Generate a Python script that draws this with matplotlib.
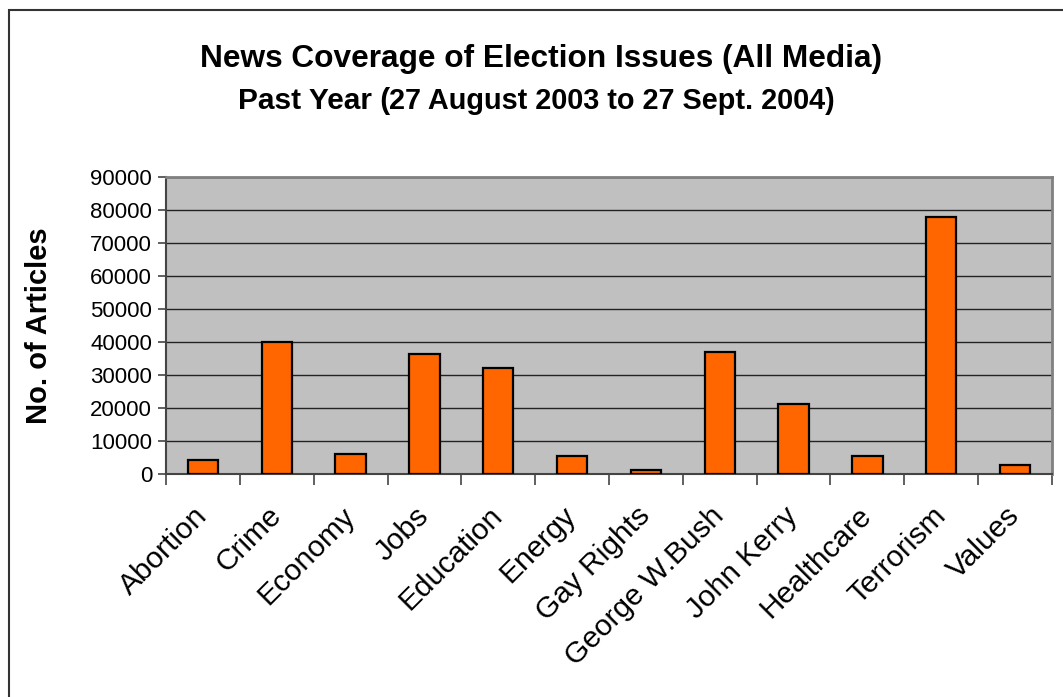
import matplotlib
matplotlib.use("Agg")
import matplotlib.pyplot as plt
import numpy as np
from matplotlib.patches import Rectangle

plt.rcParams["font.family"] = ["Liberation Sans", "DejaVu Sans"]

# data
issues = ["Abortion", "Crime", "Economy", "Jobs", "Education", "Energy",
          "Gay Rights", "George W.Bush", "John Kerry", "Healthcare",
          "Terrorism", "Values"]
articles = [4300, 40000, 6100, 36500, 32200, 5600,
            1200, 37000, 21300, 5600, 77800, 2600]
yticks = np.arange(0, 90001, 10000)

title1 = "News Coverage of Election Issues (All Media)"
title2a = "Past Year ("
title2b = "27 August 2003 to 27 Sept. 2004)"

W, H = 1063, 697
fig = plt.figure(figsize=(W / 100, H / 100), dpi=100)
ax = fig.add_axes([166 / W, (H - 474) / H, (1052 - 166) / W, (474 - 177) / H])

# outer chart frame (cut off at right and bottom)
fig.patches.append(Rectangle((9 / W, -0.05), 1.1, 1 - 10 / H + 0.05,
                             transform=fig.transFigure, fill=False,
                             edgecolor="#333333", linewidth=1.5))

x = np.arange(len(issues))
ax.set_facecolor("#c0c0c0")
ax.bar(x, articles, width=0.41, color="#ff6600", edgecolor="black",
       linewidth=1.6, zorder=3)

ax.set_xlim(-0.5, len(issues) - 0.5)
ax.set_ylim(0, 90000)
ax.set_yticks(yticks)
ax.set_yticklabels([str(v) for v in yticks], fontsize=16)
ax.yaxis.grid(True, color="#222222", linewidth=1.0, zorder=1)
ax.set_axisbelow(True)
ax.tick_params(axis="y", direction="out", length=6, width=1.2,
               color="#444444", pad=4)

ax.set_xticks(x)
ax.set_xticklabels(issues, fontsize=21.5, rotation=45, ha="right",
                   va="center", rotation_mode="anchor")
ax.tick_params(axis="x", length=0, pad=27)
ax.set_xticks(np.arange(-0.5, len(issues)), minor=True)
ax.tick_params(axis="x", which="minor", direction="out", length=8,
               width=1.2, color="#444444")

for side in ["top", "right"]:
    ax.spines[side].set_color("#808080")
    ax.spines[side].set_linewidth(2)
for side in ["left", "bottom"]:
    ax.spines[side].set_color("#444444")
    ax.spines[side].set_linewidth(1.5)

ax.set_ylabel("No. of Articles", fontsize=21, fontweight="bold")
ax.yaxis.set_label_coords((53 - 166) / (1052 - 166), 0.5)

fig.text(541 / W, 1 - 67 / H, title1, ha="center", va="baseline",
         fontsize=22.8, fontweight="bold")
fig.text(390 / W, 1 - 109 / H, title2a, ha="right", va="baseline",
         fontsize=21.5, fontweight="bold")
fig.text(389 / W, 1 - 109 / H, title2b, ha="left", va="baseline",
         fontsize=20.8, fontweight="bold")

fig.savefig("out.png", dpi=100)
